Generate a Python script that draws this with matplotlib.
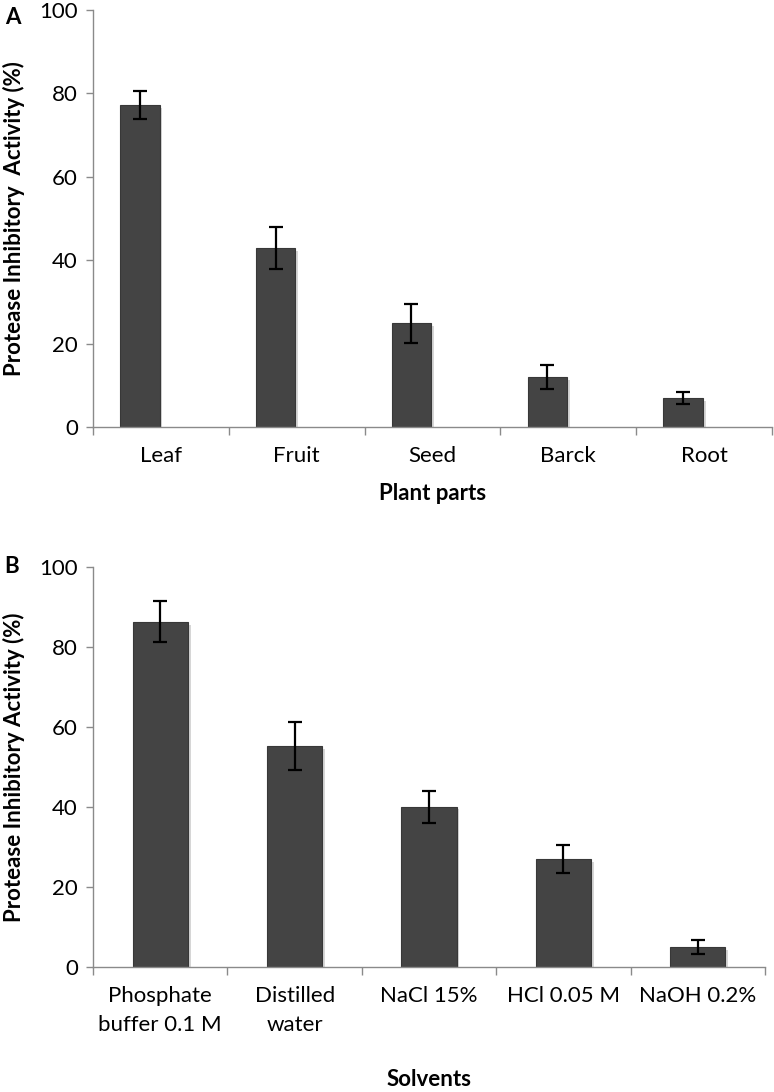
import numpy as np
import matplotlib.pyplot as plt
import matplotlib.patheffects as pe

plt.rcParams['font.family'] = ['Lato', 'DejaVu Sans']

# panel A: plant parts
parts = ["Leaf", "Fruit", "Seed", "Barck", "Root"]
parts_val = [77.2, 42.9, 24.9, 12.0, 7.0]
parts_err = [3.3, 5.1, 4.7, 2.9, 1.5]

# panel B: solvents
solvents = ["Phosphate\nbuffer 0.1 M", "Distilled\nwater", "NaCl 15%", "HCl 0.05 M", "NaOH 0.2%"]
solv_val = [86.3, 55.2, 40.1, 27.0, 5.0]
solv_err = [5.1, 6.0, 4.0, 3.6, 1.7]

bar_col = "#444444"
spine_col = "#8a8a8a"
fs = 16


def draw_panel(ax, cats, vals, errs, offset, width, xlabel, ylabel, labelpad):
    n = len(cats)
    centers = np.arange(n)
    bars = ax.bar(centers + offset, vals, width=width, color=bar_col,
                  edgecolor="#383838", linewidth=0.8, zorder=2)
    for b in bars:
        b.set_path_effects([pe.SimplePatchShadow(offset=(2, -2), shadow_rgbFace="#bbbbbb", alpha=0.6),
                            pe.Normal()])
    ax.errorbar(centers + offset, vals, yerr=errs, fmt="none", ecolor="black",
                elinewidth=1.6, capsize=5, capthick=1.6, zorder=3)
    ax.set_xlim(-0.5, n - 0.5)
    ax.set_ylim(0, 100)
    ax.set_yticks([0, 20, 40, 60, 80, 100])
    ax.set_xticks(np.arange(n + 1) - 0.5, labels=[""] * (n + 1))
    ax.set_xticks(centers, labels=cats, minor=True)
    for t in ax.get_xticklabels(minor=True):
        t.set_linespacing(1.55)
    ax.tick_params(axis="x", which="major", length=6, color=spine_col, width=1)
    ax.tick_params(axis="x", which="minor", length=0, pad=14, labelsize=fs)
    ax.tick_params(axis="y", length=5, color=spine_col, width=1, pad=6, labelsize=fs)
    for s in ["top", "right"]:
        ax.spines[s].set_visible(False)
    for s in ["left", "bottom"]:
        ax.spines[s].set_color(spine_col)
        ax.spines[s].set_linewidth(1)
    ax.set_ylabel(ylabel, fontsize=fs, fontweight="bold", labelpad=10)
    ax.set_xlabel(xlabel, fontsize=fs, fontweight="bold", labelpad=labelpad)


fig = plt.figure(figsize=(7.74, 10.92), dpi=100)
axA = fig.add_axes([0.1202, 0.6090, 0.8772, 0.3818])
axB = fig.add_axes([0.1202, 0.1145, 0.8682, 0.3663])

draw_panel(axA, parts, parts_val, parts_err, -0.155, 0.29, "Plant parts",
           "Protease Inhibitory  Activity (%)", 12)
draw_panel(axB, solvents, solv_val, solv_err, 0.0, 0.41, "Solvents",
           "Protease Inhibitory Activity (%)", 24)

fig.text(0.006, 0.984, "A", fontsize=fs, fontweight="bold", va="center")
fig.text(0.006, 0.481, "B", fontsize=fs, fontweight="bold", va="center")

fig.savefig("out.png", dpi=100)
